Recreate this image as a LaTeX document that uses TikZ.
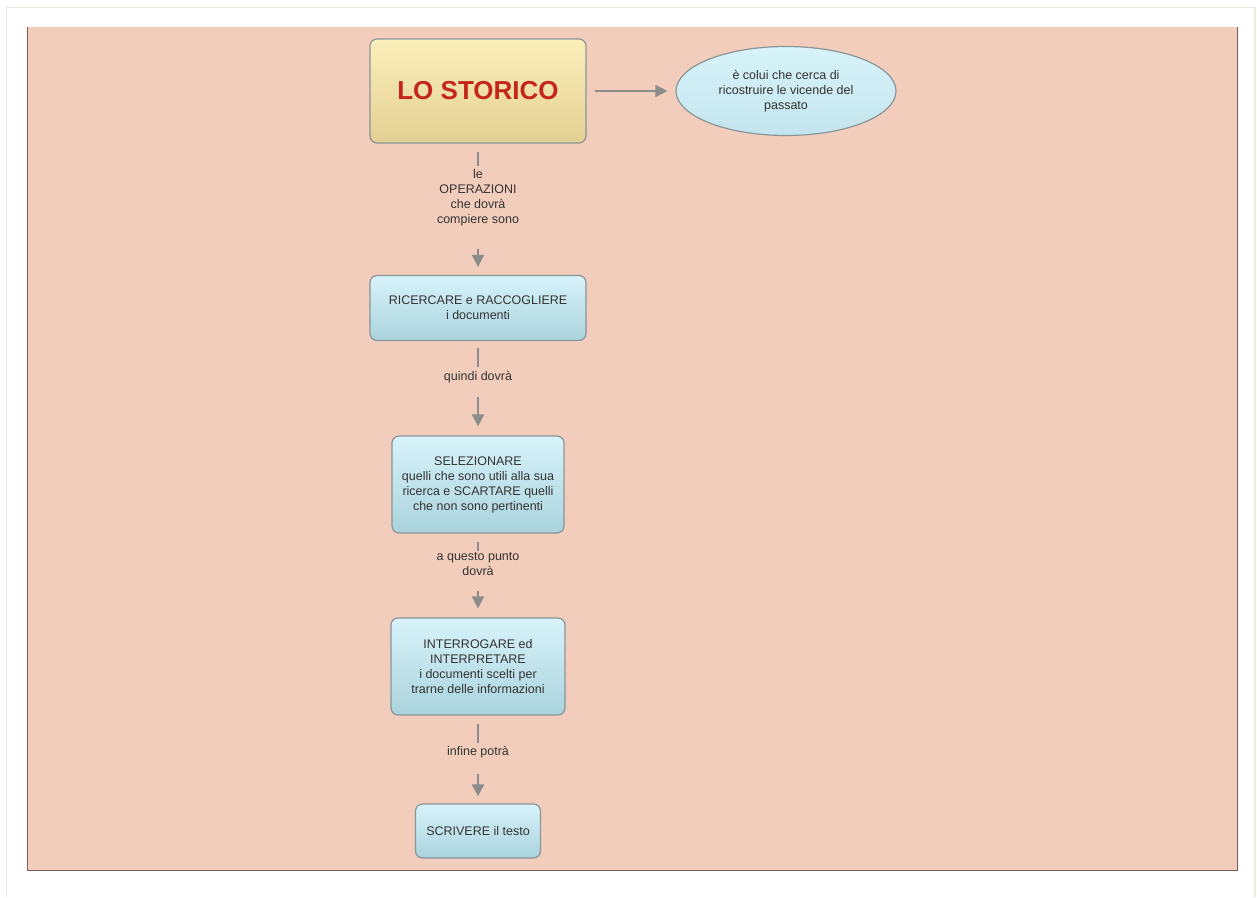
\documentclass[tikz,border=0pt]{standalone}
\usepackage{fontspec}
\setmainfont{Liberation Sans}
\usetikzlibrary{positioning,shapes.geometric,arrows.meta}
\definecolor{canvas}{HTML}{F3CDBB}
\definecolor{canvasedge}{HTML}{75625A}
\definecolor{pageframe}{HTML}{E9EAE0}
\definecolor{boxline}{HTML}{8A9598}
\definecolor{blueTop}{HTML}{D8F3FA}
\definecolor{blueBot}{HTML}{AAD3DD}
\definecolor{yellowTop}{HTML}{FBEFBA}
\definecolor{yellowBot}{HTML}{E3D093}
\definecolor{titlered}{HTML}{C4261B}
\definecolor{txt}{HTML}{333333}
\definecolor{arrowgray}{HTML}{8C8C8C}

\begin{document}
\begin{tikzpicture}[x=1pt,y=-1pt,on grid,
    >={Triangle[width=12pt,length=12pt]},
    every node/.style={font=\fontsize{12.5}{15}\selectfont,text=txt,align=center},
    concept/.style={draw=boxline,line width=1.2pt,rounded corners=7pt,
      top color=blueTop,bottom color=blueBot,inner sep=0pt},
    title/.style={concept,top color=yellowTop,bottom color=yellowBot,
      font=\fontsize{26}{30}\bfseries,text=titlered},
    desc/.style={ellipse,draw=boxline,line width=1.2pt,
      top color=blueTop,bottom color=blueTop!55!blueBot,
      minimum width=220pt,minimum height=89pt,inner sep=0pt},
    linklabel/.style={inner sep=0pt},
    conn/.style={color=arrowgray,fill=arrowgray,line width=1.8pt},
    tolabel/.style={-,shorten <=8pt,shorten >=3pt},
    fromlabel/.style={->,shorten <=15pt,shorten >=8pt}]

  % page and canvas
  \useasboundingbox (0,0) rectangle (1257,897);
  \fill[white] (0,0) rectangle (1257,897);
  \draw[pageframe,line width=1.5pt] (6.5,897) -- (6.5,7.5) -- (1255,7.5) -- (1255,897);
  \fill[canvas] (27,27) rectangle (1237,870);
  \draw[canvasedge,line width=1pt] (27,27) -- (27,870) -- (1237,870) -- (1237,27);

  % concepts
  \node[title,minimum width=216pt,minimum height=104pt] (storico) at (478,91) {LO STORICO};
  \node[desc] (colui) [right=308pt of storico] {è colui che cerca di\\ricostruire le vicende del\\passato};
  \node[linklabel] (l_1) [below=107pt of storico] {le\\OPERAZIONI\\che dovrà\\compiere sono};
  \node[concept,minimum width=216pt,minimum height=65pt] (ricerca) [below=110pt of l_1]
    {RICERCARE e RACCOGLIERE\\i documenti};
  \node[linklabel] (l_2) [below=69pt of ricerca] {quindi dovrà};
  \node[concept,minimum width=172pt,minimum height=97pt] (seleziona) [below=107.5pt of l_2]
    {SELEZIONARE\\quelli che sono utili alla sua\\ricerca e SCARTARE quelli\\che non sono pertinenti};
  \node[linklabel] (l_3) [below=80pt of seleziona] {a questo punto\\dovrà};
  \node[concept,minimum width=174pt,minimum height=97pt] (interroga) [below=102pt of l_3]
    {INTERROGARE ed\\INTERPRETARE\\i documenti scelti per\\trarne delle informazioni};
  \node[linklabel] (l_4) [below=85.5pt of interroga] {infine potrà};
  \node[concept,minimum width=125pt,minimum height=54pt] (scrivi) [below=79pt of l_4]
    {SCRIVERE il testo};

  % connectors
  \path[conn]
    (storico) edge[->,shorten <=8pt,shorten >=8pt] (colui)
    (storico) edge[tolabel] (l_1)
    (l_1) edge[fromlabel,shorten <=22pt] (ricerca)
    (ricerca) edge[tolabel,shorten <=7pt,shorten >=4pt] (l_2)
    (l_2) edge[fromlabel,shorten <=14pt,shorten >=9pt] (seleziona)
    (seleziona) edge[tolabel,shorten >=2pt] (l_3)
    (l_3) edge[fromlabel,shorten >=9pt] (interroga)
    (interroga) edge[tolabel] (l_4)
    (l_4) edge[fromlabel,shorten <=16pt,shorten >=7pt] (scrivi);
\end{tikzpicture}
\end{document}
